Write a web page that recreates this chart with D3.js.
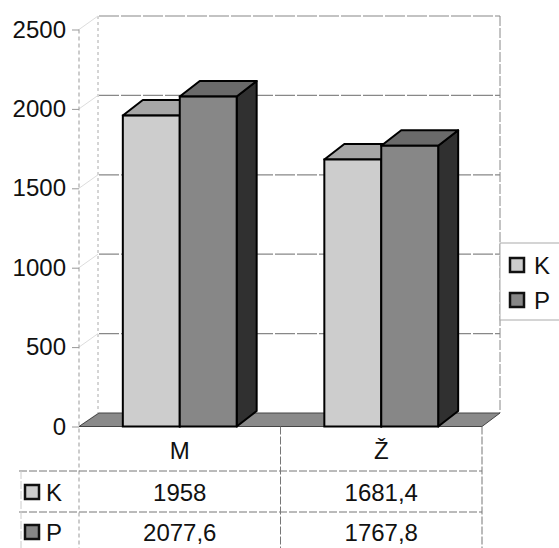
<!DOCTYPE html>
<html>
<head>
<meta charset="utf-8">
<script src="https://cdn.jsdelivr.net/npm/d3@7"></script>
<style>
  body { margin: 0; background: #fff; }
  text { font-family: "Liberation Sans", Arial, sans-serif; fill: #111; }
</style>
</head>
<body>
<div id="chart"></div>
<script>
// Data
const categories = ["M", "Ž"];
const series = ["K", "P"];
const valuesK = [1958, 1681.4];
const valuesP = [2077.6, 1767.8];
const yTicks = [0, 500, 1000, 1500, 2000, 2500];

const W = 559, H = 548;
const plotLeft = 79, plotRight = 482;
const floorDx = 20, floorDy = -13.5;   // depth of the back wall
const barDx = 20, barDy = -15.5;       // depth of the columns

const colors = {
    K: { front: "#cdcdcd", top: "#a6a6a6", side: "#7a7a7a" },
    P: { front: "#878787", top: "#6a6a6a", side: "#303030" }
};

const svg = d3.select("#chart").append("svg")
    .attr("width", W)
    .attr("height", H);

const y = d3.scaleLinear().domain([0, 2500]).range([426.5, 29.5]);
const x0 = d3.scaleBand().domain(categories).range([plotLeft, plotRight]);
const x1 = d3.scaleBand().domain(series).range([0, x0.bandwidth()]).paddingOuter(0.77);

const rows = categories.map((c, i) => ({ cat: c, K: valuesK[i], P: valuesP[i] }));

// Back wall gridlines
svg.append("g")
    .selectAll("line")
    .data(yTicks.slice(1))
    .enter()
    .append("line")
    .attr("x1", plotLeft + floorDx)
    .attr("x2", plotRight + floorDx - 2)
    .attr("y1", d => y(d) + floorDy)
    .attr("y2", d => y(d) + floorDy)
    .attr("stroke", "#888")
    .attr("stroke-width", 1.2)
    .attr("stroke-dasharray", "20,2");

// Back wall edges
svg.append("line")
    .attr("x1", plotLeft + floorDx - 1).attr("x2", plotLeft + floorDx - 1)
    .attr("y1", y(2500) + floorDy).attr("y2", y(0) + floorDy)
    .attr("stroke", "#aaa").attr("stroke-dasharray", "3,3");
svg.append("line")
    .attr("x1", plotRight + floorDx - 2).attr("x2", plotRight + floorDx - 2)
    .attr("y1", y(2500) + floorDy).attr("y2", y(0) + floorDy)
    .attr("stroke", "#888").attr("stroke-dasharray", "10,2");

// Connectors from front ticks to the back wall
svg.append("g")
    .selectAll("line")
    .data(yTicks)
    .enter()
    .append("line")
    .attr("x1", plotLeft)
    .attr("y1", d => y(d))
    .attr("x2", plotLeft + floorDx - 1)
    .attr("y2", d => y(d) + floorDy)
    .attr("stroke", "#ddd");

// Floor
svg.append("path")
    .attr("d", `M${plotLeft},${y(0)} L${plotLeft + floorDx},${y(0) + floorDy} L${plotRight + floorDx - 2},${y(0) + floorDy} L${plotRight},${y(0)} Z`)
    .attr("fill", "#8a8a8a")
    .attr("stroke", "#444")
    .attr("stroke-width", 1);

// Front value axis
svg.append("line")
    .attr("x1", plotLeft).attr("x2", plotLeft)
    .attr("y1", y(2500)).attr("y2", H)
    .attr("stroke", "#999")
    .attr("stroke-dasharray", "4,3");

const yAxis = svg.append("g")
    .attr("transform", `translate(${plotLeft},0)`)
    .call(d3.axisLeft(y).tickValues(yTicks).tickSize(7).tickPadding(6).tickFormat(d3.format("d")));
yAxis.select(".domain").remove();
yAxis.selectAll(".tick line").attr("stroke", "#999");
yAxis.selectAll(".tick text")
    .style("font-size", "24px")
    .style("font-family", "'Liberation Sans', Arial, sans-serif")
    .attr("fill", "#111");

// Columns
function drawBar(g, xL, w, v, c) {
    const yt = y(v), yb = y(0);
    g.append("path")
        .attr("d", `M${xL + w},${yb} L${xL + w + barDx},${yb + barDy} L${xL + w + barDx},${yt + barDy} L${xL + w},${yt} Z`)
        .attr("fill", c.side).attr("stroke", "#000").attr("stroke-width", 2).attr("stroke-linejoin", "round");
    g.append("path")
        .attr("d", `M${xL},${yt} L${xL + barDx},${yt + barDy} L${xL + w + barDx},${yt + barDy} L${xL + w},${yt} Z`)
        .attr("fill", c.top).attr("stroke", "#000").attr("stroke-width", 2).attr("stroke-linejoin", "round");
    g.append("rect")
        .attr("x", xL).attr("y", yt)
        .attr("width", w).attr("height", yb - yt)
        .attr("fill", c.front).attr("stroke", "#000").attr("stroke-width", 2);
}

const bars = svg.append("g");
rows.forEach(r => {
    series.forEach(s => {
        drawBar(bars, x0(r.cat) + x1(s), x1.bandwidth(), r[s], colors[s]);
    });
});

// Data table
const rowY = [450, 492, 532];
const tableLines = svg.append("g").attr("stroke", "#777").attr("stroke-dasharray", "8,2");
[471, 512].forEach(yy => {
    tableLines.append("line").attr("x1", 19).attr("x2", plotRight).attr("y1", yy).attr("y2", yy);
});
[x0("Ž"), plotRight].forEach(xx => {
    tableLines.append("line").attr("x1", xx).attr("x2", xx).attr("y1", y(0)).attr("y2", H);
});
tableLines.append("line").attr("x1", 21).attr("x2", 21).attr("y1", 471).attr("y2", H).attr("stroke", "#ccc");

// Category labels
svg.append("g")
    .selectAll("text")
    .data(categories)
    .enter()
    .append("text")
    .attr("x", d => x0(d) + x0.bandwidth() / 2)
    .attr("y", rowY[0])
    .attr("text-anchor", "middle")
    .attr("dominant-baseline", "central")
    .style("font-size", "24px")
    .text(d => d);

const fmt = v => String(v).replace(".", ",");

series.forEach((s, si) => {
    const vals = si === 0 ? valuesK : valuesP;
    const yy = rowY[si + 1];
    svg.append("rect")
        .attr("x", 25).attr("y", yy - 7).attr("width", 14).attr("height", 14)
        .attr("fill", colors[s].front).attr("stroke", "#111").attr("stroke-width", 2.5);
    svg.append("text")
        .attr("x", 46).attr("y", yy)
        .attr("dominant-baseline", "central")
        .style("font-size", "24px")
        .text(s);
    svg.append("g")
        .selectAll("text")
        .data(vals)
        .enter()
        .append("text")
        .attr("x", (d, i) => x0(categories[i]) + x0.bandwidth() / 2)
        .attr("y", yy)
        .attr("text-anchor", "middle")
        .attr("dominant-baseline", "central")
        .style("font-size", "24px")
        .text(fmt);
});

// Legend
const legend = svg.append("g");
legend.append("rect")
    .attr("x", 500).attr("y", 243).attr("width", 70).attr("height", 77)
    .attr("fill", "#fff").attr("stroke", "#aaa");
series.forEach((s, i) => {
    const yy = 265 + i * 35;
    legend.append("rect")
        .attr("x", 510).attr("y", yy - 7).attr("width", 14).attr("height", 14)
        .attr("fill", colors[s].front).attr("stroke", "#111").attr("stroke-width", 2.5);
    legend.append("text")
        .attr("x", 534).attr("y", yy)
        .attr("dominant-baseline", "central")
        .style("font-size", "24px")
        .text(s);
});
</script>
</body>
</html>
